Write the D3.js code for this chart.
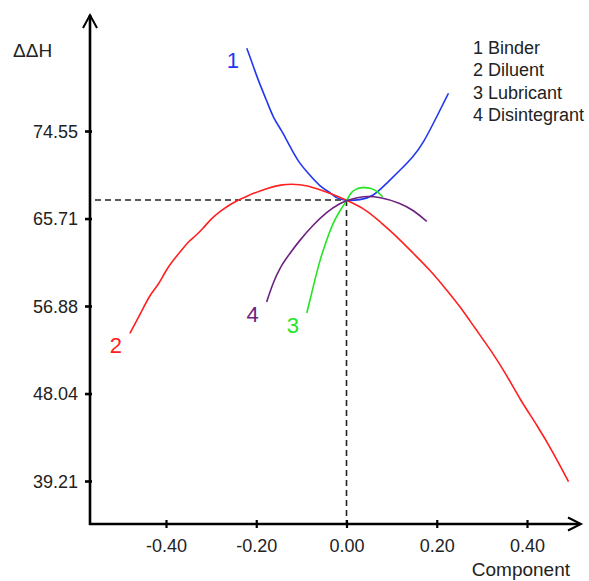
<!DOCTYPE html>
<html>
<head>
<meta charset="utf-8">
<script src="https://cdn.jsdelivr.net/npm/d3@7"></script>
<style>
  html, body { margin: 0; padding: 0; background: #fff; }
  svg { display: block; font-family: "Liberation Sans", Arial, sans-serif; }
</style>
</head>
<body>
<svg id="chart" width="589" height="581"></svg>
<script>
// ---- data ----
const xTicks = [-0.40, -0.20, 0.00, 0.20, 0.40];
const yTicks = [39.21, 48.04, 56.88, 65.71, 74.55];
const seriesNames = ["Binder", "Diluent", "Lubricant", "Disintegrant"];
const seriesIds = ["1", "2", "3", "4"];
const refX = 0.00;
const refY = 67.58;

const binderX = [-0.221, -0.210, -0.196, -0.177, -0.162, -0.144, -0.125, -0.107, -0.085, -0.059, -0.033, -0.022, -0.003, 0.030, 0.059, 0.089, 0.119, 0.148, 0.170, 0.200, 0.226];
const binderY = [82.90, 81.55, 79.70, 77.63, 75.83, 74.65, 72.96, 71.45, 70.28, 68.93, 68.26, 67.75, 67.51, 67.58, 67.92, 69.27, 70.61, 71.96, 73.31, 75.99, 78.36];

const diluentX = [-0.480, -0.454, -0.436, -0.417, -0.402, -0.384, -0.365, -0.351, -0.332, -0.318, -0.299, -0.281, -0.255, -0.221, -0.177, -0.144, -0.103, -0.066, -0.037, 0.000, 0.045, 0.074, 0.108, 0.148, 0.185, 0.222, 0.252, 0.285, 0.322, 0.355, 0.385, 0.422, 0.459, 0.492];
const diluentY = [54.12, 56.31, 58.00, 59.00, 60.34, 61.52, 62.53, 63.37, 64.05, 64.72, 65.73, 66.40, 67.25, 67.99, 68.76, 69.17, 69.20, 68.76, 68.26, 67.58, 66.57, 65.39, 64.05, 62.20, 60.52, 58.50, 56.81, 54.63, 52.27, 49.91, 47.39, 44.87, 42.01, 39.14];

const lubricantX = [-0.088, -0.074, -0.059, -0.044, -0.030, -0.014, 0.000, 0.008, 0.020, 0.035, 0.055, 0.070, 0.080];
const lubricantY = [56.17, 58.80, 61.53, 63.55, 65.26, 66.57, 67.45, 68.26, 68.70, 68.87, 68.80, 68.40, 67.90];

const disintegrantX = [-0.177, -0.163, -0.147, -0.125, -0.103, -0.074, -0.044, -0.014, 0.005, 0.037, 0.074, 0.119, 0.148, 0.178];
const disintegrantY = [57.28, 59.20, 60.82, 62.23, 63.55, 65.06, 66.37, 67.28, 67.58, 68.00, 67.89, 67.28, 66.57, 65.42];

const colors = ["#2038f0", "#ff2020", "#22e622", "#6e2280"];

// ---- layout ----
const svg = d3.select("#chart");
const x = d3.scaleLinear().domain([-0.40, 0.40]).range([166, 527]);
const y = d3.scaleLinear().domain([39.21, 74.55]).range([481, 131]);
const axisX0 = 90, axisY0 = 524, axisTop = 15, axisRight = 581;
const fmt = v => d3.format(".2f")(v).replace("\u2212", "-");

const series = [
  { id: seriesIds[0], xs: binderX, ys: binderY },
  { id: seriesIds[1], xs: diluentX, ys: diluentY },
  { id: seriesIds[2], xs: lubricantX, ys: lubricantY },
  { id: seriesIds[3], xs: disintegrantX, ys: disintegrantY }
].map((s, i) => ({ ...s, color: colors[i], pts: s.xs.map((v, j) => [v, s.ys[j]]) }));

// reference dashed lines
svg.append("line")
  .attr("x1", 95).attr("x2", x(refX))
  .attr("y1", y(refY)).attr("y2", y(refY))
  .attr("stroke", "#222").attr("stroke-width", 1.6).attr("stroke-dasharray", "6,4");
svg.append("line")
  .attr("x1", x(refX)).attr("x2", x(refX))
  .attr("y1", y(refY)).attr("y2", axisY0)
  .attr("stroke", "#222").attr("stroke-width", 1.6).attr("stroke-dasharray", "6,4");

// curves
const line = d3.line().x(d => x(d[0])).y(d => y(d[1])).curve(d3.curveBasis);
svg.selectAll("path.curve").data(series).join("path")
  .attr("class", "curve")
  .attr("d", d => line(d.pts))
  .attr("fill", "none")
  .attr("stroke", d => d.color)
  .attr("stroke-width", 1.6);

// curve number labels near each curve start
svg.selectAll("text.clabel").data(series).join("text")
  .attr("class", "clabel")
  .attr("x", d => x(d.pts[0][0]) - 14)
  .attr("y", d => y(d.pts[0][1]) + 20)
  .attr("text-anchor", "middle")
  .attr("font-size", 22)
  .attr("fill", d => d.color)
  .text(d => d.id);

// axes
const axisG = svg.append("g").attr("stroke", "#000").attr("fill", "none");
axisG.append("line").attr("x1", axisX0).attr("x2", axisX0).attr("y1", axisTop).attr("y2", axisY0 + 1).attr("stroke-width", 2.6);
axisG.append("line").attr("x1", axisX0 - 1).attr("x2", axisRight - 2).attr("y1", axisY0).attr("y2", axisY0).attr("stroke-width", 2.6);
axisG.append("path").attr("d", `M${axisX0 - 7},${axisTop + 13}L${axisX0},${axisTop}L${axisX0 + 7},${axisTop + 13}`).attr("stroke-width", 2);
axisG.append("path").attr("d", `M${axisRight - 13},${axisY0 - 6.5}L${axisRight},${axisY0}L${axisRight - 13},${axisY0 + 6.5}`).attr("stroke-width", 2);

// y ticks
const yAxis = d3.axisLeft(y).tickValues(yTicks).tickFormat(fmt).tickSize(0).tickPadding(0);
const gy = svg.append("g").attr("transform", `translate(${axisX0},0)`).call(yAxis);
gy.select(".domain").remove();
gy.selectAll(".tick line").attr("x1", -5).attr("x2", 2).attr("stroke", "#000").attr("stroke-width", 2.6);
gy.selectAll(".tick text").attr("x", -12).attr("dy", "0.35em")
  .attr("font-size", 18).attr("font-family", "Liberation Sans, Arial, sans-serif").attr("fill", "#222");

// x ticks
const xAxis = d3.axisBottom(x).tickValues(xTicks).tickFormat(fmt).tickSize(0).tickPadding(0);
const gx = svg.append("g").attr("transform", `translate(0,${axisY0})`).call(xAxis);
gx.select(".domain").remove();
gx.selectAll(".tick line").attr("y1", -4).attr("y2", 4).attr("stroke", "#000").attr("stroke-width", 2.2);
gx.selectAll(".tick text").attr("y", 28).attr("dy", 0)
  .attr("font-size", 18).attr("font-family", "Liberation Sans, Arial, sans-serif").attr("fill", "#222");

// axis titles
svg.append("text").attr("x", 13).attr("y", 57).attr("font-size", 19).attr("fill", "#222").text("ΔΔH");
svg.append("text").attr("x", 570).attr("y", 576).attr("text-anchor", "end").attr("font-size", 19).attr("fill", "#222").text("Component");

// legend
svg.selectAll("text.legend").data(series).join("text")
  .attr("class", "legend")
  .attr("x", 473)
  .attr("y", (d, i) => 54 + i * 22.3)
  .attr("font-size", 18)
  .attr("fill", "#222")
  .text((d, i) => d.id + " " + seriesNames[i]);
</script>
</body>
</html>
